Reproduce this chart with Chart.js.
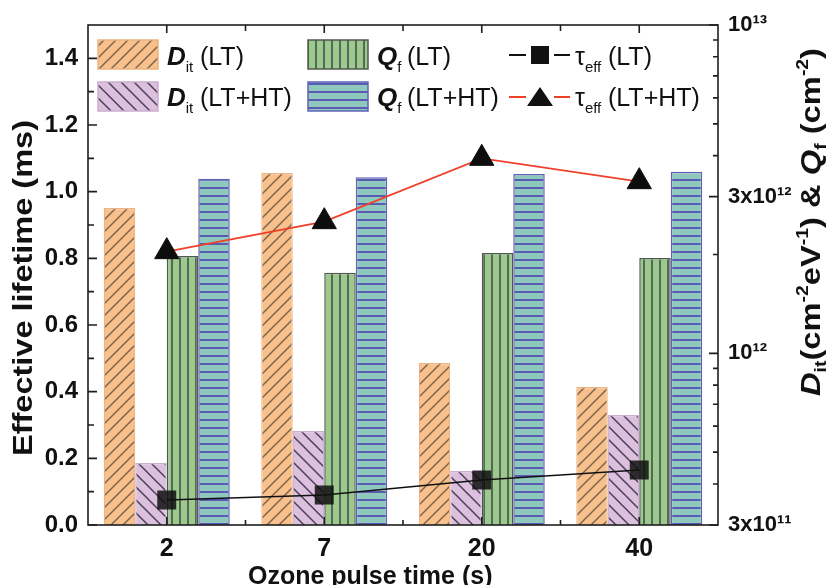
<!DOCTYPE html>
<html><head><meta charset="utf-8">
<script src="https://cdn.jsdelivr.net/npm/chart.js@4.4.1/dist/chart.umd.min.js"></script>
<style>html,body{margin:0;padding:0;background:#fff;}canvas{display:block;}</style>
</head><body>
<canvas id="c" width="827" height="585"></canvas>
<script>
// ---------- data ----------
const categories = ['2', '7', '20', '40'];
const ditLT   = [2.77e12, 3.54e12, 9.34e11, 7.89e11];
const ditLTHT = [4.63e11, 5.80e11, 4.38e11, 6.49e11];
const qfLT    = [1.98e12, 1.76e12, 2.02e12, 1.95e12];
const qfLTHT  = [3.40e12, 3.44e12, 3.52e12, 3.57e12];
const tauLT   = [0.075, 0.09, 0.135, 0.165];
const tauLTHT = [0.82, 0.91, 1.10, 1.03];
const leftTickValues = [0, 0.2, 0.4, 0.6, 0.8, 1.0, 1.2, 1.4];
const rightTickValues = [3e11,4e11,5e11,6e11,7e11,8e11,9e11,1e12,2e12,3e12,4e12,5e12,6e12,7e12,8e12,9e12,1e13];
const rightTickLabels = {'3e11': '3x10¹¹', '1e12': '10¹²', '3e12': '3x10¹²', '1e13': '10¹³'};

const FONT = "'Liberation Sans', Arial, sans-serif";

function makePattern(type, bg, fg, lw, P) {
  const c = document.createElement('canvas'); c.width = P; c.height = P;
  const g = c.getContext('2d');
  g.fillStyle = bg; g.fillRect(0, 0, P, P);
  g.strokeStyle = fg; g.lineWidth = lw; g.beginPath();
  if (type === 'diag') {
    g.moveTo(-2, P + 2); g.lineTo(P + 2, -2);
    g.moveTo(-2, 2); g.lineTo(2, -2);
    g.moveTo(P - 2, P + 2); g.lineTo(P + 2, P - 2);
  } else if (type === 'back') {
    g.moveTo(-2, -2); g.lineTo(P + 2, P + 2);
    g.moveTo(P - 2, -2); g.lineTo(P + 2, 2);
    g.moveTo(-2, P - 2); g.lineTo(2, P + 2);
  } else if (type === 'vert') {
    g.moveTo(P / 2, 0); g.lineTo(P / 2, P);
  } else {
    g.moveTo(0, P / 2); g.lineTo(P, P / 2);
  }
  g.stroke();
  return document.getElementById('c').getContext('2d').createPattern(c, 'repeat');
}

const styles = {
  dLT:   {fill: makePattern('diag', '#F8C18C', '#7d6450', 1.5, 12), border: '#EDB281'},
  dLTHT: {fill: makePattern('back', '#DBC1DD', '#4f3f5a', 1.5, 13), border: '#CBAECF'},
  qLT:   {fill: makePattern('vert', '#9CCA8D', '#59675a', 2, 8),   border: '#4f5a4f'},
  qLTHT: {fill: makePattern('horiz', '#8FC8BD', '#5a5cb3', 2, 8),  border: '#6062b8'}
};

function drawRuns(ctx, runs, x, y) {
  let cx = x;
  for (const r of runs) {
    ctx.font = r.font;
    ctx.fillText(r.t, cx, y + (r.dy || 0));
    cx += ctx.measureText(r.t).width;
  }
  return cx - x;
}
function measureRuns(ctx, runs) {
  let w = 0;
  for (const r of runs) { ctx.font = r.font; w += ctx.measureText(r.t).width; }
  return w;
}

const decor = {
  id: 'decor',
  afterDatasetsDraw(chart) {
    const {ctx, chartArea: a, scales} = chart;
    ctx.save();
    ctx.strokeStyle = '#1e1e1e';
    ctx.lineWidth = 1.6;
    ctx.beginPath();
    const y = scales.y;
    const maj = y.ticks.map(t => t.value);
    maj.forEach((v, i) => {
      const py = y.getPixelForValue(v);
      ctx.moveTo(a.left, py); ctx.lineTo(a.left + 9, py);
      if (i < maj.length - 1) {
        const pm = (py + y.getPixelForValue(maj[i + 1])) / 2;
        ctx.moveTo(a.left, pm); ctx.lineTo(a.left + 6, pm);
      }
    });
    const y2 = scales.y2;
    y2.ticks.forEach(t => {
      const py = y2.getPixelForValue(t.value);
      const len = t.label ? 9 : 5;
      ctx.moveTo(a.right, py); ctx.lineTo(a.right - len, py);
    });
    const x = scales.x;
    const n = categories.length;
    for (let i = 0; i < n; i++) {
      const px = x.getPixelForValue(i);
      ctx.moveTo(px, a.bottom); ctx.lineTo(px, a.bottom - 8);
      ctx.moveTo(px, a.top); ctx.lineTo(px, a.top + 8);
      if (i < n - 1) {
        const pb = (px + x.getPixelForValue(i + 1)) / 2;
        ctx.moveTo(pb, a.bottom); ctx.lineTo(pb, a.bottom - 5);
        ctx.moveTo(pb, a.top); ctx.lineTo(pb, a.top + 6);
      }
    }
    ctx.stroke();
    ctx.strokeRect(a.left, a.top, a.right - a.left, a.bottom - a.top);
    ctx.restore();
  },
  afterDraw(chart) {
    const {ctx} = chart;
    ctx.save();
    ctx.fillStyle = '#111';
    ctx.textBaseline = 'alphabetic';
    ctx.textAlign = 'left';
    ctx.font = 'bold 25px ' + FONT;
    ctx.fillText('Ozone pulse time (s)', 248, 584);
    ctx.save();
    ctx.translate(32, 288);
    ctx.rotate(-Math.PI / 2);
    ctx.font = 'bold 27px ' + FONT;
    const t1 = 'Effective lifetime (ms)';
    const w1 = ctx.measureText(t1).width;
    ctx.scale(336 / w1, 1);
    ctx.fillText(t1, -w1 / 2, 0);
    ctx.restore();
    const B = 'bold 27px ' + FONT, BI = 'italic bold 27px ' + FONT, S = 'bold 16px ' + FONT;
    const runs = [
      {t: 'D', font: BI}, {t: 'it', font: S, dy: 6}, {t: '(cm', font: B}, {t: '-2', font: S, dy: -12},
      {t: 'eV', font: B}, {t: '-1', font: S, dy: -12}, {t: ') & ', font: B}, {t: 'Q', font: BI},
      {t: 'f', font: S, dy: 6}, {t: ' (cm', font: B}, {t: '-2', font: S, dy: -12}, {t: ')', font: B}
    ];
    ctx.save();
    ctx.translate(820, 222);
    ctx.rotate(-Math.PI / 2);
    const w2 = measureRuns(ctx, runs);
    ctx.scale(348 / w2, 1);
    drawRuns(ctx, runs, -w2 / 2, 0);
    ctx.restore();

    // legend
    const R = '25px ' + FONT, LI = 'italic bold 26px ' + FONT, SS = '15px ' + FONT;
    const rows = [{top: 40, base: 65, mid: 55}, {top: 82, base: 106, mid: 97}];
    const boxes = [
      {col: 98, row: 0, st: styles.dLT, sym: 'D', sub: 'it', lab: '(LT)'},
      {col: 98, row: 1, st: styles.dLTHT, sym: 'D', sub: 'it', lab: '(LT+HT)'},
      {col: 308, row: 0, st: styles.qLT, sym: 'Q', sub: 'f', lab: '(LT)'},
      {col: 308, row: 1, st: styles.qLTHT, sym: 'Q', sub: 'f', lab: '(LT+HT)'}
    ];
    boxes.forEach(b => {
      const r = rows[b.row];
      ctx.fillStyle = b.st.fill;
      ctx.fillRect(b.col, r.top, 60, 29);
      ctx.strokeStyle = b.st.border; ctx.lineWidth = 1.5;
      ctx.strokeRect(b.col, r.top, 60, 29);
      ctx.fillStyle = '#111';
      const off = b.sym === 'D' ? 102 : 99;
      drawRuns(ctx, [{t: b.sym, font: LI}, {t: b.sub, font: SS, dy: 7}], b.col + 69, r.base);
      ctx.font = R;
      ctx.fillText(b.lab, b.col + off, r.base);
    });
    const lines = [
      {row: 0, color: '#111', marker: 'rect', lab: '(LT)'},
      {row: 1, color: '#f0402a', marker: 'tri', lab: '(LT+HT)'}
    ];
    lines.forEach(l => {
      const r = rows[l.row];
      ctx.strokeStyle = l.color; ctx.lineWidth = 2;
      ctx.beginPath();
      ctx.moveTo(509, r.mid); ctx.lineTo(526, r.mid);
      ctx.moveTo(554, r.mid); ctx.lineTo(570, r.mid);
      ctx.stroke();
      ctx.fillStyle = '#111';
      ctx.beginPath();
      if (l.marker === 'rect') ctx.rect(531, r.mid - 9, 18, 18);
      else { ctx.moveTo(540, r.mid - 10); ctx.lineTo(553, r.mid + 9); ctx.lineTo(527, r.mid + 9); ctx.closePath(); }
      ctx.fill();
      drawRuns(ctx, [{t: 'τ', font: R}, {t: 'eff', font: SS, dy: 7}], 575, r.base);
      ctx.font = R;
      ctx.fillText(l.lab, 608, r.base);
    });
    ctx.restore();
  }
};

new Chart(document.getElementById('c'), {
  data: {
    labels: categories,
    datasets: [
      {type: 'line', label: 'τeff (LT)', data: tauLT, yAxisID: 'y', order: 0,
       borderColor: '#111', borderWidth: 1.5, pointStyle: 'rect', pointRadius: 13.4,
       pointBackgroundColor: 'rgba(15,15,15,0.85)', pointBorderWidth: 0, tension: 0},
      {type: 'line', label: 'τeff (LT+HT)', data: tauLTHT, yAxisID: 'y', order: 0,
       borderColor: '#f0402a', borderWidth: 1.8, pointStyle: 'triangle', pointRadius: 14,
       pointBackgroundColor: '#0d0d0d', pointBorderColor: '#0d0d0d', pointBorderWidth: 1, tension: 0},
      {type: 'bar', label: 'Dit (LT)', data: ditLT, yAxisID: 'y2', order: 1,
       backgroundColor: styles.dLT.fill, borderColor: styles.dLT.border, borderWidth: 1.2},
      {type: 'bar', label: 'Dit (LT+HT)', data: ditLTHT, yAxisID: 'y2', order: 1,
       backgroundColor: styles.dLTHT.fill, borderColor: styles.dLTHT.border, borderWidth: 1.2},
      {type: 'bar', label: 'Qf (LT)', data: qfLT, yAxisID: 'y2', order: 1,
       backgroundColor: styles.qLT.fill, borderColor: styles.qLT.border, borderWidth: 1.5},
      {type: 'bar', label: 'Qf (LT+HT)', data: qfLTHT, yAxisID: 'y2', order: 1,
       backgroundColor: styles.qLTHT.fill, borderColor: styles.qLTHT.border, borderWidth: 1.5}
    ]
  },
  options: {
    responsive: false,
    animation: false,
    layout: {padding: {top: 25, left: 0, right: 0, bottom: 0}},
    datasets: {bar: {categoryPercentage: 0.8, barPercentage: 1.0}},
    plugins: {legend: {display: false}, tooltip: {enabled: false}, title: {display: false}},
    scales: {
      x: {
        type: 'category', offset: true,
        grid: {display: false, drawTicks: false}, border: {display: false},
        ticks: {color: '#111', font: {family: FONT, size: 25, weight: 'bold'}, padding: 9, maxRotation: 0},
        afterFit: s => { s.height = 60; }
      },
      y: {
        type: 'linear', position: 'left', min: 0, max: 1.5,
        grid: {display: false, drawTicks: false}, border: {display: false},
        afterBuildTicks: s => { s.ticks = leftTickValues.map(v => ({value: v})); },
        ticks: {color: '#111', font: {family: FONT, size: 24, weight: 'bold'}, padding: 10,
                callback: v => Number(v).toFixed(1)},
        afterFit: s => { s.width = 88; }
      },
      y2: {
        type: 'logarithmic', position: 'right', min: 3e11, max: 1e13,
        grid: {display: false, drawTicks: false}, border: {display: false},
        afterBuildTicks: s => { s.ticks = rightTickValues.map(v => ({value: v})); },
        ticks: {color: '#111', font: {family: FONT, size: 22, weight: 'bold'}, padding: 10, autoSkip: false,
                callback: v => rightTickLabels[Number(v).toExponential().replace('+', '').replace('.0', '')] || ''},
        afterFit: s => { s.width = 109; }
      }
    }
  },
  plugins: [decor]
});
</script>
</body></html>
